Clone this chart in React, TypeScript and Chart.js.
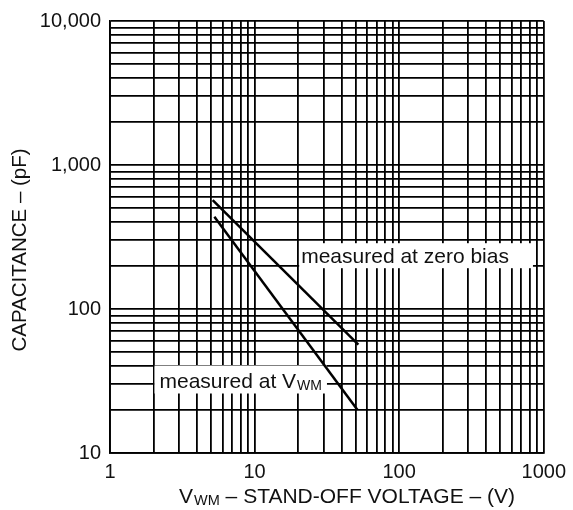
import React, { useEffect, useRef } from 'react';
import { Chart, registerables } from 'chart.js';

Chart.register(...registerables);

// ---- data ----
const xDecades = [1, 10, 100, 1000];
const yDecades = [10, 100, 1000, 10000];

const zeroBiasV = [5.13, 52.2];
const zeroBiasC = [571, 56.5];
const atVwmV = [5.27, 51.4];
const atVwmC = [437, 20];

const labelMain = ['measured at zero bias', 'measured at V'];
const labelSub = ['', 'WM'];
const labelV = [21, 2.2];
const labelC = [208, 28.5];

const yTitle = 'CAPACITANCE – (pF)';
const xTitleMain = 'V';
const xTitleSub = 'WM';
const xTitleRest = ' – STAND-OFF VOLTAGE – (V)';

// ---- styles ----
const FONT = '"Liberation Sans", Arial, Helvetica, sans-serif';
const TEXT = '#111';
const GRID = '#000';
const LABEL_PADS = [
  { l: 2, t: 20, r: 24, b: 5 },
  { l: 5, t: 22, r: 5, b: 6 },
];

function buildTicks(decades: number[]) {
  const out: number[] = [];
  for (let i = 0; i < decades.length - 1; i++) {
    for (let k = 1; k <= 9; k++) out.push(decades[i] * k);
  }
  out.push(decades[decades.length - 1]);
  return out;
}

const annotate = {
  id: 'annotate',
  beforeDatasetsDraw(chart: any) {
    const { ctx } = chart;
    const x = chart.scales.x;
    const y = chart.scales.y;
    ctx.save();
    labelMain.forEach((t, i) => {
      const px = x.getPixelForValue(labelV[i]);
      const py = y.getPixelForValue(labelC[i]);
      ctx.font = `21px ${FONT}`;
      const w1 = ctx.measureText(t).width;
      ctx.font = `14px ${FONT}`;
      const w2 = labelSub[i] ? ctx.measureText(labelSub[i]).width + 1 : 0;
      const p = LABEL_PADS[i];
      ctx.fillStyle = '#fff';
      ctx.fillRect(px - p.l, py - p.t, w1 + w2 + p.l + p.r, p.t + p.b);
      ctx.fillStyle = TEXT;
      ctx.textAlign = 'left';
      ctx.textBaseline = 'alphabetic';
      ctx.font = `21px ${FONT}`;
      ctx.fillText(t, px, py);
      if (labelSub[i]) {
        ctx.font = `14px ${FONT}`;
        ctx.fillText(labelSub[i], px + w1 + 1, py + 2);
      }
    });
    ctx.restore();
  },
  afterDraw(chart: any) {
    const { ctx } = chart;
    ctx.save();
    ctx.fillStyle = TEXT;
    ctx.textBaseline = 'middle';
    ctx.textAlign = 'center';
    // y title
    ctx.translate(20, 250);
    ctx.rotate(-Math.PI / 2);
    ctx.font = `20.5px ${FONT}`;
    ctx.fillText(yTitle, 0, 0);
    ctx.restore();

    ctx.save();
    ctx.fillStyle = TEXT;
    ctx.textAlign = 'left';
    ctx.textBaseline = 'alphabetic';
    ctx.font = `21px ${FONT}`;
    const wA = ctx.measureText(xTitleMain).width;
    const wC = ctx.measureText(xTitleRest).width;
    ctx.font = `14.5px ${FONT}`;
    const wB = ctx.measureText(xTitleSub).width + 1;
    const total = wA + wB + wC;
    let sx = 347 - total / 2;
    const base = 503;
    ctx.font = `21px ${FONT}`;
    ctx.fillText(xTitleMain, sx, base);
    sx += wA + 1;
    ctx.font = `14.5px ${FONT}`;
    ctx.fillText(xTitleSub, sx, base + 2);
    sx += wB - 1;
    ctx.font = `21px ${FONT}`;
    ctx.fillText(xTitleRest, sx, base);
    ctx.restore();
  },
};

export default function App() {
  const ref = useRef<HTMLCanvasElement | null>(null);

  useEffect(() => {
    if (!ref.current) return;
    const xTicks = buildTicks(xDecades);
    const yTicks = buildTicks(yDecades);
    const chart = new Chart(ref.current, {
      type: 'line',
      data: {
        datasets: [
          {
            label: 'measured at zero bias',
            data: zeroBiasV.map((v, i) => ({ x: v, y: zeroBiasC[i] })),
            borderColor: '#000',
            borderWidth: 2.5,
            pointRadius: 0,
            tension: 0,
          },
          {
            label: 'measured at VWM',
            data: atVwmV.map((v, i) => ({ x: v, y: atVwmC[i] })),
            borderColor: '#000',
            borderWidth: 2.5,
            pointRadius: 0,
            tension: 0,
          },
        ],
      },
      options: {
        animation: false,
        responsive: false,
        maintainAspectRatio: false,
        layout: { padding: { left: 0, top: 18, right: 28, bottom: 0 } },
        plugins: { legend: { display: false }, tooltip: { enabled: false }, title: { display: false } },
        scales: {
          x: {
            type: 'logarithmic',
            min: xDecades[0],
            max: xDecades[xDecades.length - 1],
            afterBuildTicks: (s: any) => {
              s.ticks = xTicks.map((v) => ({ value: v }));
            },
            afterFit: (s: any) => {
              s.height = 57;
            },
            grid: { color: GRID, lineWidth: 1.8, drawTicks: false },
            border: { color: GRID, width: 1.8 },
            ticks: {
              autoSkip: false,
              maxRotation: 0,
              padding: 7,
              color: TEXT,
              font: { family: FONT, size: 20 },
              callback: (v: any) => (xDecades.includes(Number(v)) ? String(v) : ''),
            },
          },
          y: {
            type: 'logarithmic',
            min: yDecades[0],
            max: yDecades[yDecades.length - 1],
            afterBuildTicks: (s: any) => {
              s.ticks = yTicks.map((v) => ({ value: v }));
            },
            afterFit: (s: any) => {
              s.width = 110;
            },
            grid: { color: GRID, lineWidth: 1.8, drawTicks: false },
            border: { color: GRID, width: 1.8 },
            ticks: {
              autoSkip: false,
              padding: 9,
              color: TEXT,
              font: { family: FONT, size: 20 },
              callback: (v: any) =>
                yDecades.includes(Number(v)) ? Number(v).toLocaleString('en-US') : '',
            },
          },
        },
      },
      plugins: [annotate],
    } as any);
    return () => chart.destroy();
  }, []);

  return (
    <div style={{ position: 'fixed', left: 0, top: 0, width: 573, height: 510, background: '#fff' }}>
      <canvas ref={ref} width={573} height={510} style={{ display: 'block', width: 573, height: 510 }} />
    </div>
  );
}
